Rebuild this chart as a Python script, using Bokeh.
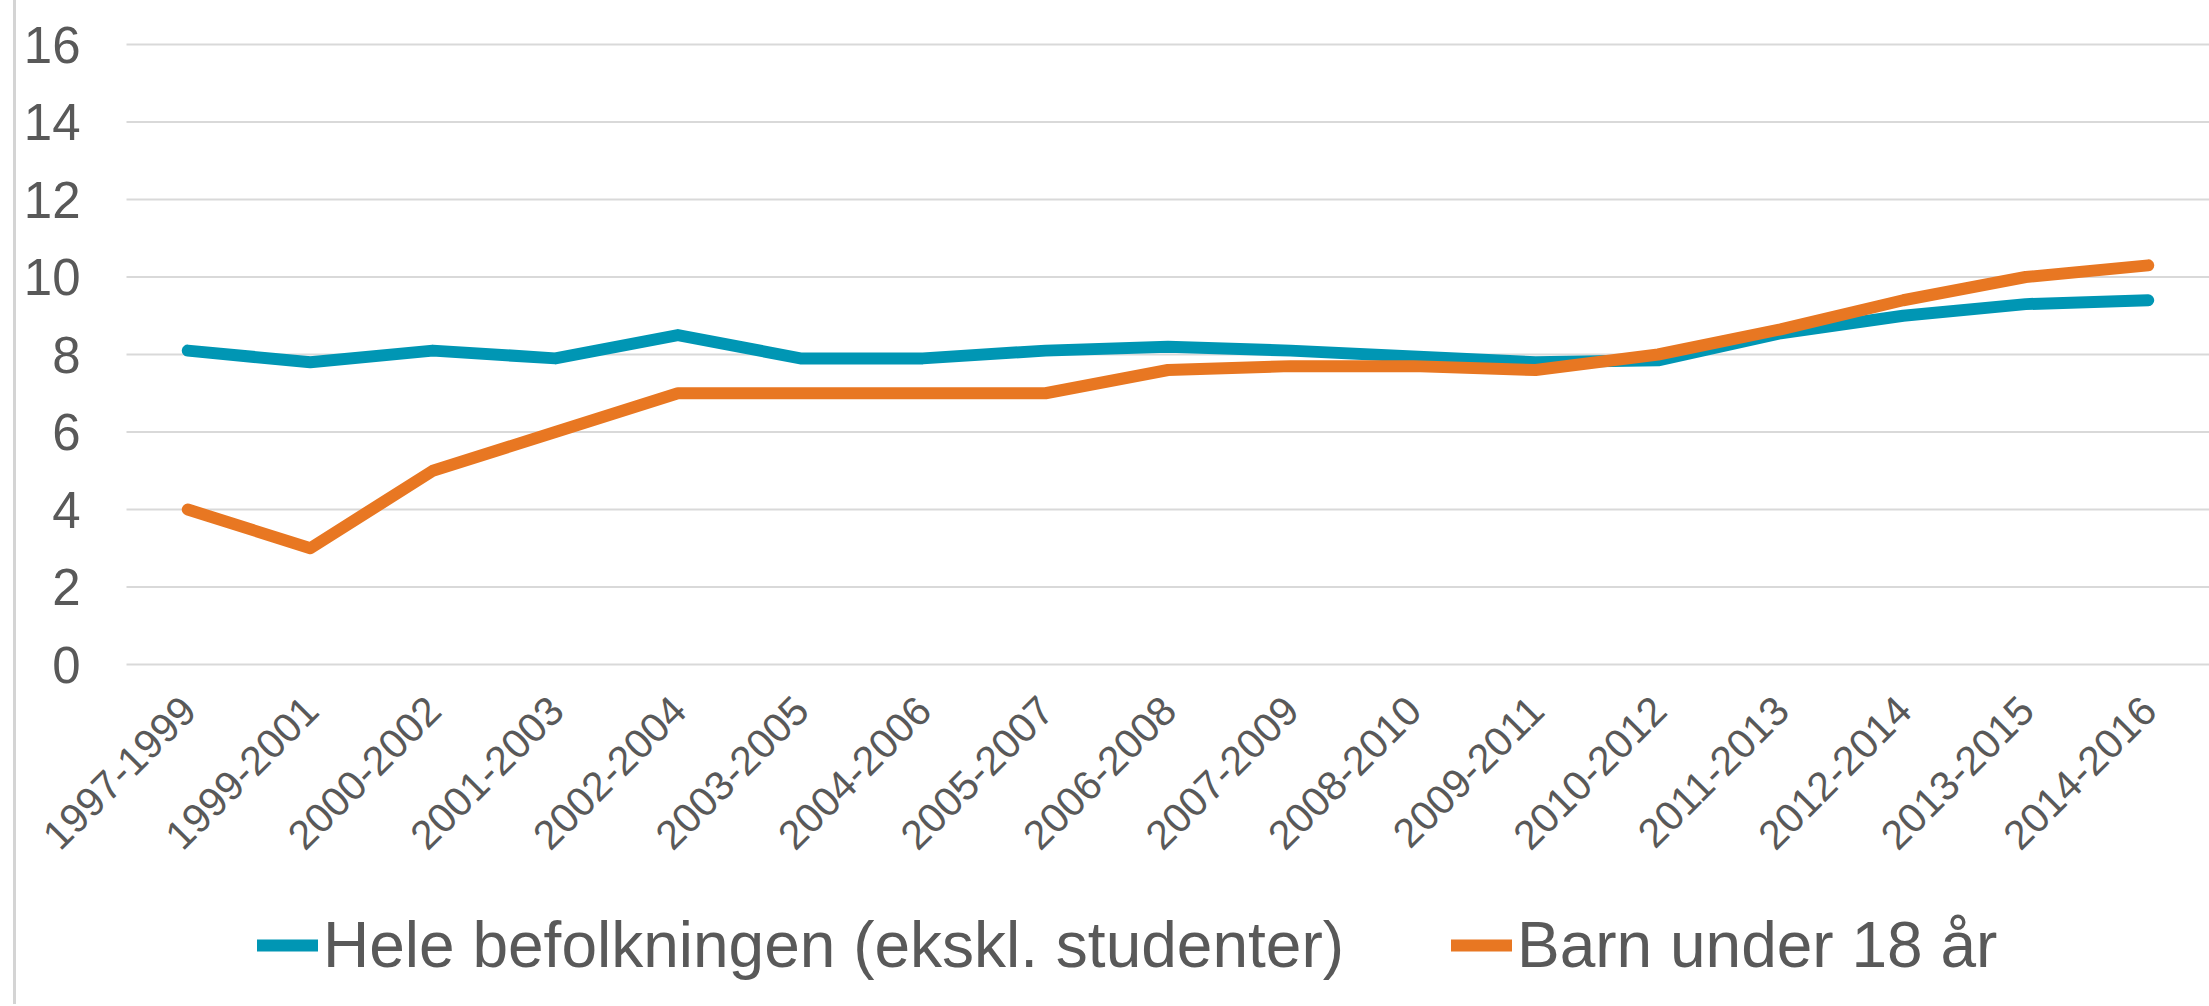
from bokeh.plotting import figure
from bokeh.models import Legend, LegendItem, Div, Range1d, ColumnDataSource
from bokeh.layouts import row
from bokeh.embed import file_html
from bokeh.resources import INLINE
from bokeh.core.properties import value
import math

periods = ["1997-1999", "1999-2001", "2000-2002", "2001-2003", "2002-2004", "2003-2005",
           "2004-2006", "2005-2007", "2006-2008", "2007-2009", "2008-2010", "2009-2011",
           "2010-2012", "2011-2013", "2012-2014", "2013-2015", "2014-2016"]
hele = [8.1, 7.8, 8.1, 7.9, 8.5, 7.9, 7.9, 8.1, 8.2, 8.1, 7.95, 7.8, 7.85, 8.55, 9.0, 9.3, 9.4]
barn = [4.0, 3.0, 5.0, 6.0, 7.0, 7.0, 7.0, 7.0, 7.6, 7.7, 7.7, 7.6, 8.0, 8.65, 9.4, 10.0, 10.3]
series_names = ["Hele befolkningen (ekskl. studenter)", "Barn under 18 år"]
y_ticks = [0, 2, 4, 6, 8, 10, 12, 14, 16]
y_tick_labels = [str(t) for t in y_ticks]

BLUE = "#0096B4"
ORANGE = "#E87722"
TEXT = "#595959"
GRID = "#d9d9d9"
FONT = "Liberation Sans"

# layout geometry (screen pixels)
FIG_W, FIG_H = 2193, 1004
PLOT_LEFT = 110        # left edge of the plotting area inside the figure
ZERO_Y = 664           # screen y of the value 0
PX_PER_UNIT = 38.75
n = len(periods)
band = (FIG_W - PLOT_LEFT) / n
x_left = -0.5 - PLOT_LEFT / band
x_right = n - 0.5
y_top = max(y_ticks) + 44 / PX_PER_UNIT
y_bottom = -(FIG_H - ZERO_Y) / PX_PER_UNIT
label_drop = 39 / PX_PER_UNIT

idx = list(range(n))

p = figure(x_range=Range1d(x_left, x_right), y_range=Range1d(y_bottom, y_top),
           width=FIG_W, height=FIG_H, output_backend="svg", toolbar_location=None,
           min_border=0)
p.outline_line_color = None
p.background_fill_color = "white"
p.border_fill_color = "white"
p.xaxis.visible = False
p.yaxis.visible = False
p.grid.visible = False

# horizontal grid lines at the value ticks
p.segment(x0=[-0.5] * len(y_ticks), x1=[x_right] * len(y_ticks), y0=y_ticks, y1=y_ticks,
          line_color=GRID, line_width=2)

# value labels
p.text(x=[-0.5] * len(y_ticks), y=y_ticks, text=y_tick_labels, x_offset=-46,
       text_align="right", text_baseline="middle",
       text_font=value(FONT), text_font_size="51px", text_color=TEXT)

r1 = p.line(idx, hele, line_color=BLUE, line_width=12, line_cap="round", line_join="round")
r2 = p.line(idx, barn, line_color=ORANGE, line_width=12, line_cap="round", line_join="round")

# category labels, rotated 45 degrees, ending just under each category
lab_src = ColumnDataSource(dict(x=idx, y=[-label_drop] * n, text=periods))
p.text(x="x", y="y", text="text", source=lab_src, angle=math.pi / 4,
       text_align="right", text_baseline="middle", x_offset=1,
       text_font=value(FONT), text_font_size="41px", text_color=TEXT)

legend = Legend(items=[LegendItem(label=series_names[0], renderers=[r1]),
                       LegendItem(label=series_names[1], renderers=[r2])],
                orientation="horizontal", location=(PLOT_LEFT + 131, 22),
                label_text_font=FONT, label_text_font_size="64px", label_text_color=TEXT,
                glyph_width=61, glyph_height=60, label_standoff=5, spacing=107,
                padding=0, margin=0, border_line_color=None, background_fill_alpha=0)
p.add_layout(legend, "center")

edge = Div(width=3, height=FIG_H, margin=(0, 0, 0, 13), styles={"background-color": "#d4d4d4"})
layout = row(edge, p, spacing=0)

open("out.html", "w").write(file_html(layout, INLINE))
